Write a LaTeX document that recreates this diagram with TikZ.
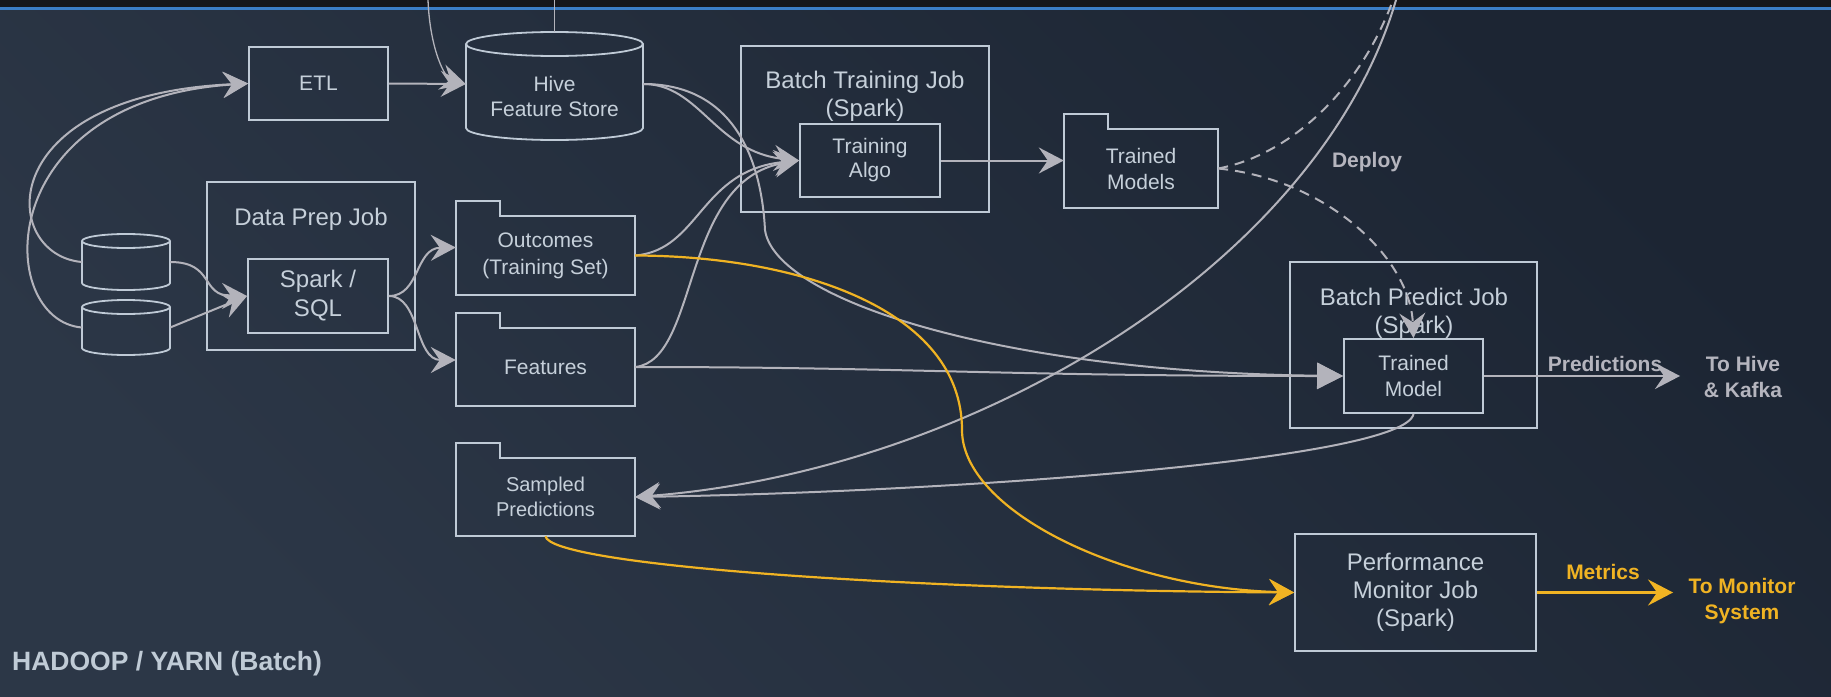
\documentclass[tikz,border=0pt]{standalone}
\usepackage{fontspec}
\setmainfont{Liberation Sans}
\usetikzlibrary{arrows.meta}
\definecolor{bgA}{HTML}{1C2533}
\definecolor{bgB}{HTML}{2C3747}
\definecolor{bandc}{HTML}{15161A}
\definecolor{bluec}{HTML}{3B7DC4}
\definecolor{boxc}{HTML}{BFCAD6}
\definecolor{txtc}{HTML}{C6D0DA}
\definecolor{cgray}{HTML}{B3B3BB}
\definecolor{lgray}{HTML}{B5B5BE}
\definecolor{yelc}{HTML}{F0B323}
\definecolor{hadc}{HTML}{C0CBD6}
\newcommand\drawcyl[5]{%
  \draw[boxst] ({#1},{#2}) ellipse[x radius=#4, y radius=#5];
  \draw[boxst] ({#1-#4},{#2}) -- ({#1-#4},{#3}) .. controls ({#1-#4},{#3+0.5523*#5}) and ({#1-0.5523*#4},{#3+#5}) .. ({#1},{#3+#5}) .. controls ({#1+0.5523*#4},{#3+#5}) and ({#1+#4},{#3+0.5523*#5}) .. ({#1+#4},{#3}) -- ({#1+#4},{#2});
}
\newcommand\drawfolder[1]{%
  \draw[boxst] (#1.south west) -- (#1.north west) -- ++(0,-15) -- ++(44,0) -- ++(0,15) -- (#1.north east) -- (#1.south east) -- cycle;
}
\begin{document}
\begin{tikzpicture}[x=1pt,y=-1pt,
  boxst/.style={draw=boxc, line width=1.8pt},
  conn/.style={draw=cgray, line width=2pt},
  yel/.style={draw=yelc, line width=2.2pt},
  arr/.style={-{Stealth[length=25pt,width=26pt,inset=9pt]}},
  tri/.style={-{Triangle[length=26pt,width=26pt]}},
  dsh/.style={dash pattern=on 10pt off 7pt},
  lbl/.style={text=txtc, font=\fontsize{21}{26}\selectfont, align=center, inner sep=0pt},
  lblbig/.style={text=txtc, font=\fontsize{24}{28}\selectfont, align=center, inner sep=0pt},
  blbl/.style={text=lgray, font=\bfseries\fontsize{21}{26}\selectfont, align=center, inner sep=0pt},
  ylbl/.style={text=yelc, font=\bfseries\fontsize{21}{26}\selectfont, align=center, inner sep=0pt},
  hold/.style={draw=none, inner sep=0pt}
]
\useasboundingbox (0,0) rectangle (1831,696);
\shade[top color=bgA, bottom color=bgB, shading angle=-45] (0,0) rectangle (1831,696);
\fill[bandc] (0,0) rectangle (1831,8);
\draw[bluec, line width=2.4pt] (0,8.5) -- (1831,8.5);

% free ends
\coordinate (topA) at (554.5,0);
\coordinate (topB) at (428,0);
\coordinate (topC) at (1393,0);
\coordinate (topD) at (1396,0);
\coordinate (toHive) at (1680,376);
\coordinate (toMon) at (1673,592.5);

% databases
\drawcyl{126}{241}{283}{44}{7}
\drawcyl{126}{307}{348}{44}{7}
\node[hold, minimum width=88pt, minimum height=42pt] (db1) at (126,262) {};
\node[hold, minimum width=88pt, minimum height=41pt] (db2) at (126,327.5) {};

% ETL and Hive
\node[boxst, lbl, minimum width=139pt, minimum height=73pt] (etl) at (318.5,83.5) {ETL};
\drawcyl{554.5}{44}{128}{88.5}{12}
\node[hold, minimum width=177pt, minimum height=104pt] (hive) at (554.5,84) {};
\node[lbl, font=\fontsize{21}{25}\selectfont] (hivelbl) at (554.5,96) {Hive\\Feature Store};

% Data prep
\draw[boxst] (207,182) rectangle (415,350);
\node[lblbig] (dplbl) at (311,219) {Data Prep Job};
\node[boxst, lblbig, font=\fontsize{24}{29}\selectfont, minimum width=140pt, minimum height=74pt] (spark) at (318,296) {Spark /\\SQL};

% folders
\node[hold, lbl, font=\fontsize{21}{27}\selectfont, minimum width=179pt, minimum height=79pt] (outcomes) at (545.5,255.5) {Outcomes\\(Training Set)};
\drawfolder{outcomes}
\node[hold, lbl, minimum width=179pt, minimum height=78pt] (features) at (545.5,367) {Features};
\drawfolder{features}
\node[hold, lbl, font=\fontsize{20}{25}\selectfont, minimum width=179pt, minimum height=78pt] (sampled) at (545.5,497) {Sampled\\Predictions};
\drawfolder{sampled}

% batch training
\draw[boxst] (741,46) rectangle (989,212);
\node[lblbig] (btlbl) at (865,96) {Batch Training Job\\(Spark)};
\node[boxst, lbl, font=\fontsize{21}{24}\selectfont, minimum width=140pt, minimum height=73pt] (algo) at (870,160.5) {Training\\Algo};
\node[hold, lbl, minimum width=154pt, minimum height=79pt] (tmodels) at (1141,168.5) {Trained\\Models};
\drawfolder{tmodels}

% batch predict
\draw[boxst] (1290,262) rectangle (1537,428);
\node[lblbig] (bplbl) at (1414,313) {Batch Predict Job\\(Spark)};
\node[boxst, lbl, minimum width=139pt, minimum height=74pt] (tmodel) at (1413.5,376) {Trained\\Model};

% performance monitor
\node[boxst, lblbig, minimum width=241pt, minimum height=117pt] (perf) at (1415.5,592.5) {Performance\\Monitor Job\\(Spark)};

% labels
\node[blbl] (deploy) at (1367,162) {Deploy};
\node[blbl] (predl) at (1605,364) {Predictions};
\node[blbl] (hivek) at (1743,377) {To Hive\\\& Kafka};
\node[ylbl] (metl) at (1603,572) {Metrics};
\node[ylbl] (monl) at (1742,601) {To Monitor\\System};
\node[text=hadc, font=\bfseries\fontsize{26.5}{30}\selectfont, inner sep=0pt, anchor=west] (hadoop) at (12,664) {HADOOP / YARN (Batch)};

% connectors
\draw[conn,arr] (db1.west) .. controls (0,255) and (-10,95) .. (etl.west);
\draw[conn,arr] (db2.west) .. controls (-5,320) and (-10,100) .. (etl.west);
\draw[conn,arr] (db1.east) .. controls (215,262) and (200,296) .. (spark.west);
\draw[conn,arr] (db2.east) -- (spark.west);
\draw[conn,arr] (spark.east) .. controls (420,296) and (415,248) .. ([yshift=8pt]outcomes.west);
\draw[conn,arr] (spark.east) .. controls (420,296) and (415,360) .. ([yshift=7pt]features.west);
\draw[conn,arr] (etl.east) -- (hive.west);
\draw[conn,line width=1.4pt] (hive.north) -- (topA);
\draw[conn,arr,line width=1.3pt] (topB) .. controls (430,50) and (445,78) .. (hive.west);
\draw[conn,arr] (hive.east) .. controls (700,84) and (715,152) .. (algo.west);
\draw[conn,arr] (outcomes.east) .. controls (700,250) and (700,170) .. (algo.west);
\draw[conn,arr] (features.east) .. controls (700,360) and (680,180) .. (algo.west);
\draw[conn,tri] (hive.east) .. controls (740,84) and (762,170) .. (765,230) .. controls (775,300) and (1000,372) .. (tmodel.west);
\draw[conn,tri] (features.east) .. controls (900,367) and (1000,376) .. (tmodel.west);
\draw[conn,arr] (algo.east) -- (algo.east -| tmodels.west);
\draw[conn,dsh] (tmodels.east) .. controls (1290,155) and (1360,90) .. (topC);
\draw[conn,dsh,arr] (tmodels.east) .. controls (1330,180) and (1410,260) .. (tmodel.north);
\draw[conn,arr] (topD) .. controls (1320,260) and (980,470) .. (sampled.east);
\draw[conn,arr] (tmodel.south) .. controls (1405,460) and (950,492) .. (sampled.east);
\draw[conn,arr] (tmodel.east) -- (toHive);
\draw[yel,arr] (outcomes.east) .. controls (800,256) and (962,310) .. (962,430) .. controls (962,510) and (1120,588) .. (perf.west);
\draw[yel,arr] (sampled.south) .. controls (550,565) and (900,590) .. (perf.west);
\draw[yel,arr] (perf.east) -- (toMon);
\end{tikzpicture}
\end{document}
